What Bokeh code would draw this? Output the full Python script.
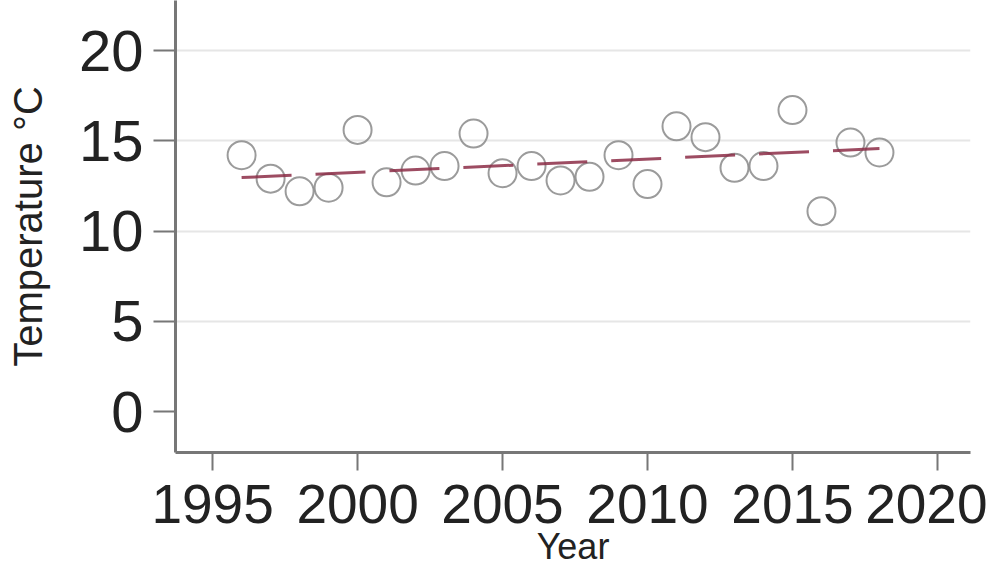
from bokeh.plotting import figure
from bokeh.models import FixedTicker, Range1d, ColumnDataSource
from bokeh.embed import file_html
from bokeh.resources import INLINE

years = [1996, 1997, 1998, 1999, 2000, 2001, 2002, 2003, 2004, 2005, 2006, 2007,
         2008, 2009, 2010, 2011, 2012, 2013, 2014, 2015, 2016, 2017, 2018]
temps = [14.2, 12.9, 12.2, 12.4, 15.6, 12.7, 13.35, 13.6, 15.4, 13.2, 13.6, 12.8,
         13.0, 14.2, 12.6, 15.8, 15.2, 13.5, 13.6, 16.7, 11.1, 14.9, 14.35]
trend_years = [1996, 2018]
trend_temps = [12.96, 14.57]
x_ticks = [1995, 2000, 2005, 2010, 2015, 2020]
y_ticks = [0, 5, 10, 15, 20]
grid_ticks = [5, 10, 15, 20]

FONT = "Liberation Sans"

p = figure(width=987, height=569, output_backend="svg", toolbar_location=None,
           x_range=Range1d(1993.72, 2021.14), y_range=Range1d(-2.27, 22.77),
           min_border_left=175, min_border_right=17, min_border_top=0,
           min_border_bottom=117)
p.outline_line_color = None
p.background_fill_color = "white"
p.border_fill_color = "white"

p.xgrid.visible = False
p.ygrid.ticker = FixedTicker(ticks=grid_ticks)
p.ygrid.grid_line_color = "#e6e6e6"
p.ygrid.grid_line_width = 2

src = ColumnDataSource(dict(x=years, y=temps))
p.scatter("x", "y", source=src, size=28, marker="circle", fill_color=None,
          line_color="#8a8a8a", line_width=2, line_alpha=0.85)
p.line(trend_years, trend_temps, line_color="#8c2d46", line_width=3, line_alpha=0.85,
       line_dash="50 24")

for ax in (p.xaxis, p.yaxis):
    ax.axis_line_color = "#777777"
    ax.axis_line_width = 3
    ax.major_tick_line_color = "#777777"
    ax.major_tick_line_width = 2
    ax.minor_tick_line_color = None
    ax.major_tick_in = 0
    ax.major_label_text_font = FONT
    ax.major_label_text_color = "#222222"
    ax.major_label_text_font_style = "normal"
    ax.axis_label_text_font = FONT
    ax.axis_label_text_font_style = "normal"
    ax.axis_label_text_color = "#222222"

p.xaxis.ticker = FixedTicker(ticks=x_ticks)
p.yaxis.ticker = FixedTicker(ticks=y_ticks)
p.xaxis.major_tick_out = 18
p.yaxis.major_tick_out = 22
p.xaxis.major_label_text_font_size = "55px"
p.yaxis.major_label_text_font_size = "58px"
p.xaxis.major_label_standoff = 14
p.yaxis.major_label_standoff = 10
p.xaxis.axis_label = "Year"
p.xaxis.axis_label_text_font_size = "36px"
p.xaxis.axis_label_standoff = 0
p.yaxis.axis_label = "Temperature °C"
p.yaxis.axis_label_text_font_size = "40px"
p.yaxis.axis_label_standoff = 26

open("out.html", "w").write(file_html(p, INLINE))
